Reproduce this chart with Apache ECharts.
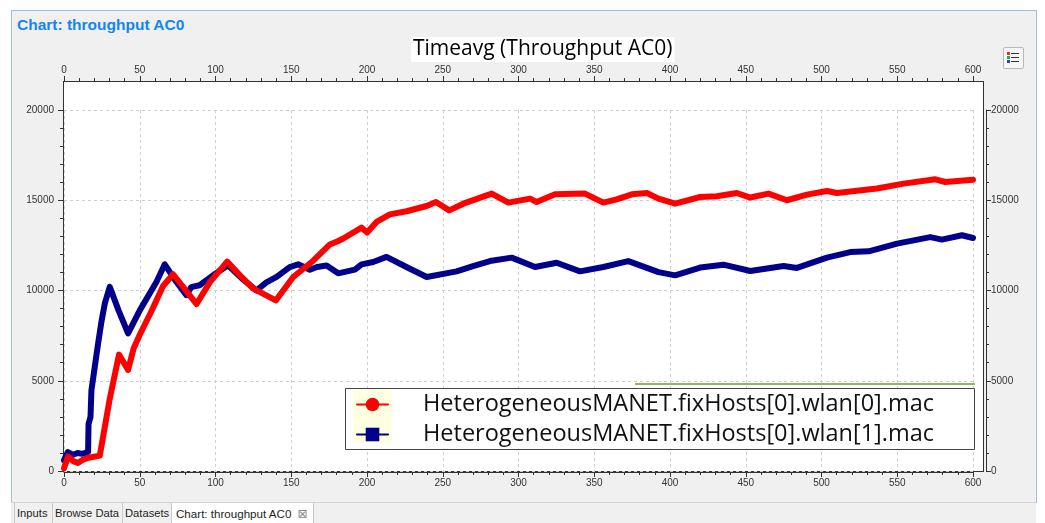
<!DOCTYPE html>
<html>
<head>
<meta charset="utf-8">
<script src="https://cdn.jsdelivr.net/npm/echarts@6/dist/echarts.min.js"></script>
<style>
html,body{margin:0;padding:0;background:#fff;width:1045px;height:523px;overflow:hidden;}
#panel{position:absolute;left:11px;top:10px;width:1024px;height:492px;background:#f0f0f0;border:1px solid #a3bfdc;border-bottom:none;}
#hdr{position:absolute;left:17px;top:16px;font:bold 15.5px "Liberation Sans",Arial,sans-serif;color:#1285f5;line-height:18px;}
#plotbg{position:absolute;left:63px;top:81px;width:919px;height:389px;background:#fff;border:1px solid #333;}
#btn{position:absolute;left:1003px;top:47px;width:19px;height:20px;border:1px solid #b9b9b9;background:#f7f7f7;border-radius:2px;}
#btn i{position:absolute;display:block;}
#tabs{position:absolute;left:11px;top:502px;width:1025px;height:21px;background:#f0f0f0;border-top:1px solid #d4d4d4;}
.tab{position:absolute;top:0;height:21px;padding-top:4px;line-height:19px;font:11.2px "Liberation Sans",Arial,sans-serif;color:#1e1e1e;border-left:1px solid #c9c9c9;box-sizing:border-box;padding-left:2px;white-space:nowrap;overflow:hidden;}
.tab.sel{background:#fff;border-right:1px solid #c9c9c9;font-size:11.6px;}
.x{color:#8a8a8a;font:12px "DejaVu Sans",sans-serif;margin-left:6px;}
#chart{position:absolute;left:0;top:0;width:1045px;height:523px;}
</style>
</head>
<body>
<div id="panel"></div>
<div id="hdr">Chart: throughput AC0</div>
<div id="plotbg"></div>
<div id="btn">
  <i style="left:3px;top:4px;width:3px;height:3px;background:#e03030"></i><i style="left:7px;top:5px;width:8px;height:1px;background:#333"></i>
  <i style="left:3px;top:8px;width:3px;height:3px;background:#20b030"></i><i style="left:7px;top:9px;width:8px;height:1px;background:#333"></i>
  <i style="left:3px;top:12px;width:3px;height:3px;background:#2040e0"></i><i style="left:7px;top:13px;width:8px;height:1px;background:#333"></i>
</div>
<div id="tabs">
  <div class="tab" style="left:3px;width:38px">Inputs</div>
  <div class="tab" style="left:41px;width:70px">Browse Data</div>
  <div class="tab" style="left:111px;width:49px">Datasets</div>
  <div class="tab sel" style="left:160px;width:143px;padding-left:4px">Chart: throughput AC0<span class="x">⊠</span></div>
</div>
<div id="chart"></div>
<script>
// ---- data ----
const chartTitle = 'Timeavg (Throughput AC0)';
const seriesNames = [
  'HeterogeneousMANET.fixHosts[0].wlan[0].mac',
  'HeterogeneousMANET.fixHosts[0].wlan[1].mac'
];
const seriesColors = ['#ff0000', '#00008b'];
const timesRed = [0, 2.7, 6, 9.2, 13, 17, 23.6, 30.2, 36.3, 42.3, 46, 50, 57.7, 65.4, 72, 80, 87.5, 96.2, 107.7,
  116, 125, 139.8, 151.3, 164.5, 175.5, 181, 184.3, 196.4, 200.1, 206.3, 215.1, 226.1, 239.4, 245.5, 254.3,
  263.6, 282.3, 293.3, 307.6, 312, 324.1, 343.9, 356, 364.8, 374.8, 384.7, 392.4, 403.4, 419.9, 430.9, 444.1,
  453, 465, 477.2, 490.4, 503.6, 510.2, 536.6, 554.2, 575.1, 581.7, 600];
const valuesRed = [150, 800, 550, 450, 650, 750, 850, 4000, 6450, 5600, 6800, 7550, 8850, 10250, 10900, 10050, 9250, 10450, 11600,
  10850, 10100, 9450, 10750, 11650, 12550, 12740, 12880, 13480, 13210, 13800, 14220, 14390, 14680, 14900, 14440,
  14810, 15370, 14870, 15090, 14900, 15330, 15370, 14870, 15050, 15330, 15400, 15090, 14810, 15180, 15220, 15400,
  15150, 15370, 15000, 15310, 15510, 15400, 15650, 15920, 16160, 16010, 16140];
const timesBlue = [0, 2.5, 6, 9, 12, 15.9, 16.2, 17.5, 18.1, 20.3, 22.5, 24.7, 26.9, 30.2, 36, 42.3, 50, 61, 66.5,
  74, 80.8, 84, 89.5, 98.4, 108.3, 117, 127, 133.6, 140.3, 149, 154.6, 162.3, 167, 173.3, 181, 192, 196.4, 204.1,
  212.9, 226, 239.4, 259.2, 270, 281.2, 295.5, 310.9, 325.2, 340.6, 356, 372.5, 392.4, 403.4, 419.9, 435.3, 453,
  475, 483.8, 503.6, 519, 531.1, 549.9, 571.8, 579.5, 592.7, 600];
const valuesBlue = [600, 1050, 900, 1000, 950, 1050, 2600, 3000, 4470, 5760, 7060, 8260, 9270, 10200, 8900, 7620, 8900, 10470, 11450,
  10500, 9740, 10190, 10290, 10840, 11400, 10700, 10000, 10450, 10750, 11300, 11450, 11150, 11300, 11380, 10950, 11160, 11450, 11580,
  11860, 11300, 10750, 11060, 11350, 11630, 11820, 11300, 11540, 11060, 11300, 11630, 11020, 10840, 11270, 11430, 11080,
  11360, 11250, 11820, 12130, 12170, 12600, 12960, 12820, 13060, 12910];
const xMin = 0, xMax = 600, xStep = 50;
const yMin = 0, yMax = 20000, yStep = 5000;

// ---- chart ----
const pairs = (ts, vs) => ts.map((t, i) => [t, vs[i]]);
const labelFont = {fontSize: 10, color: '#333', fontFamily: 'Liberation Sans', formatter: v => String(v)};
const axisCol = '#333';
function xAx(pos, offset, split) {
  return {
    type: 'value', position: pos, offset: offset, min: xMin, max: xMax, interval: xStep,
    axisLine: {show: true, onZero: false, lineStyle: {color: axisCol, width: 1}},
    axisTick: {show: true, length: 5, lineStyle: {color: axisCol}},
    minorTick: {show: true, splitNumber: 5, length: 3, lineStyle: {color: axisCol}},
    axisLabel: Object.assign({margin: 6}, labelFont),
    splitLine: {show: split, lineStyle: {color: '#cfcfcf', type: [3, 3]}}
  };
}
function yAx(pos, offset, margin, split) {
  return {
    type: 'value', position: pos, offset: offset, min: yMin, max: yMax, interval: yStep,
    axisLine: {show: true, onZero: false, lineStyle: {color: axisCol, width: 1}},
    axisTick: {show: true, length: 5, lineStyle: {color: axisCol}},
    minorTick: {show: true, splitNumber: 5, length: 3, lineStyle: {color: axisCol}},
    axisLabel: Object.assign({margin: margin}, labelFont),
    splitLine: {show: split, lineStyle: {color: '#cfcfcf', type: [3, 3]}}
  };
}
const chart = echarts.init(document.getElementById('chart'), null, {renderer: 'canvas'});
chart.setOption({
  animation: false,
  backgroundColor: 'transparent',
  title: {
    text: chartTitle, left: 411, top: 37, padding: [0, 2],
    backgroundColor: '#fff',
    textStyle: {fontFamily: 'Open Sans', fontSize: 21, fontWeight: 'normal', color: '#000', lineHeight: 25}
  },
  grid: {left: 64, right: 72, top: 110, bottom: 52, containLabel: false},
  xAxis: [xAx('bottom', 1, true), xAx('top', 29, false)],
  yAxis: [yAx('left', 1, 9, true), yAx('right', 13, 5, false)],
  legend: {
    orient: 'vertical', left: 356, top: 391, padding: 0, z: 10,
    itemWidth: 31, itemHeight: 17, itemGap: 3, selectedMode: false,
    data: seriesNames,
    lineStyle: {width: 2},
    textStyle: {fontFamily: 'Open Sans', fontSize: 23.5, lineHeight: 27, color: '#111', padding: [0, 0, 0, 30]}
  },
  graphic: [
    {type: 'rect', z: 5, silent: true, shape: {x: 345.5, y: 388.5, width: 629, height: 61},
      style: {fill: '#fff', stroke: '#444', lineWidth: 1}},
    {type: 'rect', z: 6, silent: true, shape: {x: 353, y: 390, width: 39, height: 53}, style: {fill: '#ffffe2'}},
    {type: 'line', z: 5, silent: true, shape: {x1: 635, y1: 384, x2: 975, y2: 384}, style: {stroke: '#8ab86a', lineWidth: 2}}
  ],
  series: [
    {
      type: 'line', name: seriesNames[1], data: pairs(timesBlue, valuesBlue), z: 2,
      symbol: 'rect', showSymbol: false, color: seriesColors[1],
      lineStyle: {width: 6, color: seriesColors[1], cap: 'round', join: 'round'},
      itemStyle: {color: seriesColors[1]}
    },
    {
      type: 'line', name: seriesNames[0], data: pairs(timesRed, valuesRed), z: 3,
      symbol: 'circle', showSymbol: false, color: seriesColors[0],
      lineStyle: {width: 6, color: seriesColors[0], cap: 'round', join: 'round'},
      itemStyle: {color: seriesColors[0]}
    }
  ]
});
</script>
</body>
</html>
